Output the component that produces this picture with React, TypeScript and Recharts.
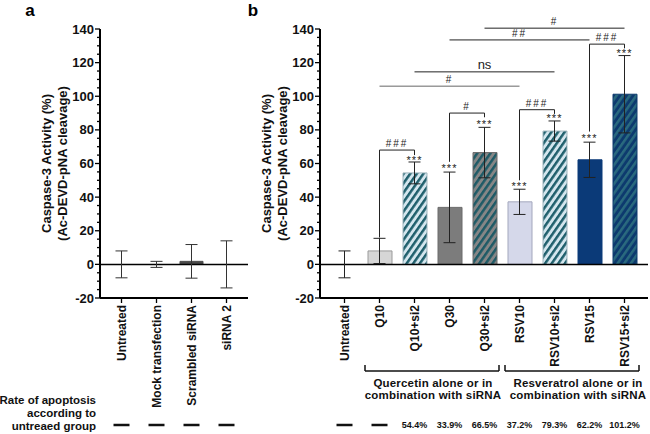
import { ComposedChart, Bar, Scatter, XAxis, YAxis, ErrorBar, Cell, ReferenceLine, ReferenceDot } from "recharts"

const FONT = '"Liberation Sans", Arial, sans-serif'

// panel a
const groupsA = ["Untreated", "Mock transfection", "Scrambled siRNA", "siRNA 2"]
const valuesA = [0, 0, 1.8, 0]
const errorsA = [8, 1.8, 10, 14]
const ratesA = ["", "", "", ""]

// panel b
const groupsB = ["Untreated", "Q10", "Q10+si2", "Q30", "Q30+si2", "RSV10", "RSV10+si2", "RSV15", "RSV15+si2"]
const valuesB = [0, 8, 54.4, 33.9, 66.5, 37.2, 79.3, 62.2, 101.2]
const errorsB = [8, 7.5, 6.5, 21, 15, 7.5, 6, 10.5, 23]
const ratesB = ["", "", "54.4%", "33.9%", "66.5%", "37.2%", "79.3%", "62.2%", "101.2%"]
const starsB = [null, null, 62, 57, 83.5, 46.5, 87, 75, 125.5]

const yTicks = [-20, -15, -10, -5, 0, 5, 10, 15, 20, 25, 30, 35, 40, 45, 50, 55, 60, 65, 70, 75, 80, 85, 90, 95, 100, 105, 110, 115, 120, 125, 130, 135, 140]

// brackets between a treatment and its +si2 pair
const pairBrackets = [
  { from: "Q10", to: "Q10+si2", y: 68, fromEnd: 16, toEnd: 65, text: "###" },
  { from: "Q30", to: "Q30+si2", y: 90, fromEnd: 61, toEnd: 87.5, text: "#" },
  { from: "RSV10", to: "RSV10+si2", y: 92, fromEnd: 50, toEnd: 89.5, text: "###" },
  { from: "RSV15", to: "RSV15+si2", y: 131, fromEnd: 79, toEnd: 128.5, text: "###" },
]
// long comparison lines
const spanLines = [
  { from: "Q10", to: "RSV10", y: 106, text: "#" },
  { from: "Q10+si2", to: "RSV10+si2", y: 114.5, text: "ns" },
  { from: "Q30", to: "RSV15", y: 133.5, text: "##" },
  { from: "Q30+si2", to: "RSV15+si2", y: 140.5, text: "#" },
]

const groupBracketsB = [
  { first: 1, last: 4, dx: 1, lines: ["Quercetin alone or in", "combination with siRNA"] },
  { first: 5, last: 8, dx: 6, lines: ["Resveratrol alone or in", "combination with siRNA"] },
]

const dataA = groupsA.map((name, i) => ({ name, value: valuesA[i], err: errorsA[i] }))
const dataB = groupsB.map((name, i) => ({ name, value: valuesB[i], err: errorsB[i] }))

const fillsA = [
  { fill: "#fff", stroke: "none" },
  { fill: "#fff", stroke: "none" },
  { fill: "#4a4a4a", stroke: "#4a4a4a" },
  { fill: "#fff", stroke: "none" },
]
const fillsB = [
  { fill: "#fff", stroke: "none" },
  { fill: "#d6d6d6", stroke: "#9a9a9a" },
  { fill: "url(#stripeLight)", stroke: "#9fb5bd" },
  { fill: "#7c7c7c", stroke: "#6a6a6a" },
  { fill: "url(#stripeGray)", stroke: "#6a6a6a" },
  { fill: "#d5d8ea", stroke: "#a3a7bd" },
  { fill: "url(#stripeLight)", stroke: "#9fb5bd" },
  { fill: "#0b3a78", stroke: "#0b3a78" },
  { fill: "url(#stripeNavy)", stroke: "#0e3b6e" },
]

function YTick(props: any) {
  const { x, y, payload } = props
  const major = payload.value % 20 === 0
  return (
    <g>
      <line x1={x} x2={x - (major ? 5 : 3)} y1={y} y2={y} stroke="#000" strokeWidth={1.3} />
      {major && (
        <text x={x - 6} y={y} textAnchor="end" dominantBaseline="central" fontSize={13} fontWeight="bold" fontFamily={FONT} fill="#111">
          {payload.value}
        </text>
      )}
    </g>
  )
}

function YLabel(props: any) {
  const { viewBox } = props
  const left = viewBox.x + viewBox.width
  const cy = viewBox.y + viewBox.height / 2
  return (
    <g fontFamily={FONT} fontSize={13} fontWeight="bold" fill="#111" textAnchor="middle">
      <text x={left - 54} y={cy} dominantBaseline="central" transform={`rotate(-90, ${left - 54}, ${cy})`}>
        Caspase-3 Activity (%)
      </text>
      <text x={left - 38} y={cy} dominantBaseline="central" transform={`rotate(-90, ${left - 38}, ${cy})`}>
        (Ac-DEVD-pNA cleavage)
      </text>
    </g>
  )
}

function makeXTick(rates: string[], brackets: typeof groupBracketsB) {
  return function XTick(props: any) {
    const { x, y, payload } = props
    const i = payload.index
    const off = payload.offset || 17.5
    const ly = y + 7
    const g = brackets.find((b) => i >= b.first && i <= b.last)
    const rate = rates[i]
    let groupEls = null
    if (g) {
      const x1 = x - off + (i === g.first ? 3 : 0)
      const x2 = x + off - (i === g.last ? 3 : 0)
      const by = y + 73
      const mid = (g.first + g.last) / 2
      const tx = x + (mid - i) * 2 * off + g.dx
      groupEls = (
        <g>
          <line x1={x1} x2={x2} y1={by} y2={by} stroke="#111" strokeWidth={1.5} />
          {i === g.first && <line x1={x1} x2={x1} y1={by} y2={by - 6} stroke="#111" strokeWidth={1.5} />}
          {i === g.last && <line x1={x2} x2={x2} y1={by} y2={by - 6} stroke="#111" strokeWidth={1.5} />}
          {i === Math.floor(mid) && (
            <text x={tx} fontFamily={FONT} fontSize={11.5} fontWeight="bold" textAnchor="middle" fill="#111" letterSpacing={0.2}>
              <tspan x={tx} y={y + 89}>{g.lines[0]}</tspan>
              <tspan x={tx} y={y + 101}>{g.lines[1]}</tspan>
            </text>
          )}
        </g>
      )
    }
    return (
      <g>
        <line x1={x} x2={x} y1={y} y2={y + 5} stroke="#000" strokeWidth={1.3} />
        <text x={x} y={ly} textAnchor="end" dominantBaseline="central" fontSize={12} fontWeight="bold" fontFamily={FONT} fill="#111" transform={`rotate(-90, ${x}, ${ly})`}>
          {payload.value}
        </text>
        {groupEls}
        {rate === "" ? (
          <line x1={x - 8} x2={x + 8} y1={y + 127} y2={y + 127} stroke="#111" strokeWidth={2.5} />
        ) : (
          <text x={x} y={y + 127} textAnchor="middle" dominantBaseline="central" fontSize={9} fontWeight="bold" fontFamily={FONT} fill="#111">
            {rate}
          </text>
        )}
      </g>
    )
  }
}

const XTickA = makeXTick(ratesA, [])
const XTickB = makeXTick(ratesB, groupBracketsB)

const lineStyle = { stroke: "#222", strokeWidth: 1 }
const hashLabel = (text: string) => ({
  value: text,
  position: "top" as const,
  offset: 3,
  fontFamily: FONT,
  fontSize: text === "ns" ? 13 : 10,
  letterSpacing: text === "ns" ? 0 : 2,
  fill: "#222",
})

const noShape = () => <g />

function Stripes({ id, bg, fg }: { id: string; bg: string; fg: string }) {
  return (
    <pattern id={id} patternUnits="userSpaceOnUse" width={5.4} height={5.4} patternTransform="rotate(35)">
      <rect width={5.4} height={5.4} fill={bg} />
      <rect width={2.5} height={5.4} fill={fg} />
    </pattern>
  )
}

export default function App() {
  return (
    <div style={{ position: "absolute", left: 0, top: 0, width: 650, height: 434, background: "#fff", fontFamily: FONT }}>
      <div style={{ position: "absolute", left: 0, top: 0 }}>
        <ComposedChart width={260} height={434} data={dataA} margin={{ top: 29, right: 12, bottom: 0, left: 60 }}>
          <XAxis dataKey="name" interval={0} height={136} tickSize={0} tickMargin={0} tickLine={false} tick={<XTickA />} padding={{ left: 4, right: 4 }} axisLine={{ stroke: "#000", strokeWidth: 2 }} />
          <YAxis width={40} domain={[-20, 140]} ticks={yTicks} interval={0} tickSize={0} tickMargin={0} tickLine={false} tick={<YTick />} axisLine={{ stroke: "#000", strokeWidth: 2 }} label={<YLabel />} />
          <ReferenceLine y={0} stroke="#000" strokeWidth={1.5} />
          <Bar dataKey="value" barSize={23} isAnimationActive={false}>
            {dataA.map((d, i) => (
              <Cell key={d.name} fill={fillsA[i].fill} stroke={fillsA[i].stroke} />
            ))}
          </Bar>
          <Scatter dataKey="value" shape={noShape} isAnimationActive={false}>
            <ErrorBar dataKey="err" direction="y" width={6} stroke="#333" strokeWidth={1} isAnimationActive={false} />
          </Scatter>
        </ComposedChart>
      </div>
      <div style={{ position: "absolute", left: 260, top: 0 }}>
        <ComposedChart width={390} height={434} data={dataB} margin={{ top: 29, right: 2, bottom: 0, left: 20 }}>
          <defs>
            <Stripes id="stripeLight" bg="#d4e6ee" fg="#1f5f6c" />
            <Stripes id="stripeGray" bg="#868686" fg="#1e5a66" />
            <Stripes id="stripeNavy" bg="#0d3a6e" fg="#2a6a7e" />
          </defs>
          <XAxis dataKey="name" interval={0} height={136} tickSize={0} tickMargin={0} tickLine={false} tick={<XTickB />} padding={{ left: 7, right: 6 }} axisLine={{ stroke: "#000", strokeWidth: 2 }} />
          <YAxis width={40} domain={[-20, 140]} ticks={yTicks} interval={0} tickSize={0} tickMargin={0} tickLine={false} tick={<YTick />} axisLine={{ stroke: "#000", strokeWidth: 2 }} label={<YLabel />} />
          <ReferenceLine y={0} stroke="#000" strokeWidth={1.5} />
          <Bar dataKey="value" barSize={24} isAnimationActive={false}>
            {dataB.map((d, i) => (
              <Cell key={d.name} fill={fillsB[i].fill} stroke={fillsB[i].stroke} />
            ))}
          </Bar>
          <Scatter dataKey="value" shape={noShape} isAnimationActive={false}>
            <ErrorBar dataKey="err" direction="y" width={6} stroke="#222" strokeWidth={1} isAnimationActive={false} />
          </Scatter>
          {pairBrackets.map((b) => [
            <ReferenceLine key={b.from + "h"} segment={[{ x: b.from, y: b.y }, { x: b.to, y: b.y }]} {...lineStyle} ifOverflow="visible" label={hashLabel(b.text)} />,
            <ReferenceLine key={b.from + "l"} segment={[{ x: b.from, y: b.fromEnd }, { x: b.from, y: b.y }]} {...lineStyle} ifOverflow="visible" />,
            <ReferenceLine key={b.from + "r"} segment={[{ x: b.to, y: b.toEnd }, { x: b.to, y: b.y }]} {...lineStyle} ifOverflow="visible" />,
          ])}
          {spanLines.map((s, i) => (
            <ReferenceLine key={"s" + i} segment={[{ x: s.from, y: s.y }, { x: s.to, y: s.y }]} stroke={i === 0 ? "#666" : "#222"} strokeWidth={1} ifOverflow="visible" label={hashLabel(s.text)} />
          ))}
          {starsB.map((v, i) =>
            v === null ? null : (
              <ReferenceDot key={"st" + i} x={groupsB[i]} y={v} r={0} stroke="none" fill="none" ifOverflow="visible"
                label={{ value: "***", position: "center", fontFamily: FONT, fontSize: 11, letterSpacing: 1, fill: "#222" }} />
            )
          )}
        </ComposedChart>
      </div>
      <svg width={650} height={434} style={{ position: "absolute", left: 0, top: 0, pointerEvents: "none" }}>
        <text x={30} y={16} fontFamily={FONT} fontSize={17} fontWeight="bold" textAnchor="middle">a</text>
        <text x={253} y={16} fontFamily={FONT} fontSize={17} fontWeight="bold" textAnchor="middle">b</text>
        <g fontFamily={FONT} fontSize={11.5} fontWeight="bold" textAnchor="end" fill="#111">
          <text x={96} y={404}>Rate of apoptosis</text>
          <text x={96} y={417}>according to</text>
          <text x={96} y={430}>untreaed group</text>
        </g>
      </svg>
    </div>
  )
}
